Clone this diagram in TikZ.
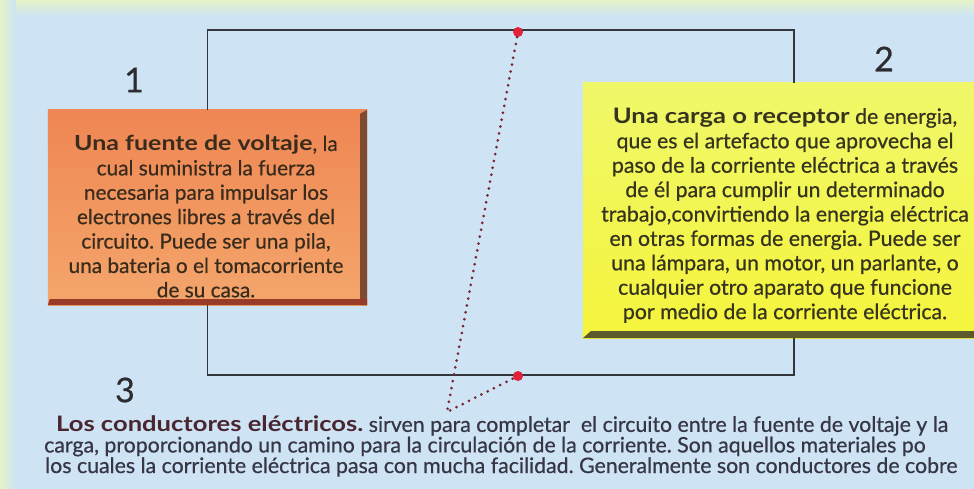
\documentclass[tikz,border=0pt]{standalone}
\usepackage{fontspec}
\setmainfont{Lato}[UprightFeatures={FakeBold=0.6}]
\usetikzlibrary{calc}
\definecolor{bg}{HTML}{CEE4F5}
\definecolor{bgyel}{HTML}{E4F3C8}
\definecolor{wirec}{HTML}{35363C}
\definecolor{dotred}{HTML}{E2213A}
\definecolor{dotline}{HTML}{7A2432}
\definecolor{orangeA}{HTML}{EF8653}
\definecolor{orangeB}{HTML}{F4A66C}
\definecolor{orangeShadow}{HTML}{7E4A32}
\definecolor{yelA}{HTML}{F0F86A}
\definecolor{yelB}{HTML}{F5F43C}
\definecolor{yelShadow}{HTML}{5C5A2C}
\definecolor{textO}{HTML}{3A2C1C}
\definecolor{textY}{HTML}{36341E}
\definecolor{textB}{HTML}{363645}
\definecolor{textBB}{HTML}{4A2630}
\definecolor{numc}{HTML}{2C2C30}
\newcommand\bx[1]{\scalebox{1.2}[1]{\textbf{#1}}}
\tikzset{
  wire/.style={draw=wirec, line width=1.8pt},
  reddot/.style={circle, fill=dotred, inner sep=0pt, minimum size=10pt},
  dots/.style={draw=dotline, line width=3pt, line cap=round, dash pattern=on 0pt off 7pt},
  boxtextO/.style={align=center, inner sep=0pt, font=\fontsize{20.8}{24.4}\selectfont, text=textO},
  boxtextY/.style={align=center, inner sep=0pt, font=\fontsize{21.3}{24.4}\selectfont, text=textY},
  bodytext/.style={align=left, anchor=base west, inner sep=0pt, font=\fontsize{21.3}{18}\selectfont, text=textB},
  numtext/.style={inner sep=0pt, font=\fontsize{34}{34}\selectfont, text=numc},
  plainbox/.style={inner sep=0pt, draw=none}
}
\begin{document}
\frenchspacing
\begin{tikzpicture}[x=1pt,y=-1pt]
\useasboundingbox (0,0) rectangle (974,489);
\clip (0,0) rectangle (974,489);
% background
\fill[bg] (0,0) rectangle (974,489);
\shade[top color=bgyel, bottom color=bg] (0,0) rectangle (974,16);
\shade[left color=bgyel, right color=bg] (0,0) rectangle (16,489);

% source box (orange)
\node[plainbox, minimum width=319pt, minimum height=195pt] (src) at (207.5,207.5) {};
\shade[top color=orangeA, bottom color=orangeB] (src.north west) rectangle (src.south east);
\fill[orangeShadow] ($(src.north east)+(-7,4)$) -- ($(src.north east)+(0,0)$) -- (src.south east) -- ($(src.south east)+(-7,0)$) -- cycle;
\fill[orangeShadow!80!red] ($(src.south west)+(2,-6)$) -- ($(src.south east)+(0,-6)$) -- (src.south east) -- (src.south west) -- cycle;
\node[boxtextO] (srctext) at (206,216.5) {\bx{Una fuente de voltaje}, la\\cual suministra la fuerza\\necesaria para impulsar los\\electrones libres a través del\\circuito. Puede ser una pila,\\una bateria o el tomacorriente\\de su casa.};

% load box (yellow)
\node[plainbox, minimum width=392pt, minimum height=255pt] (load) at (779,210.5) {};
\shade[top color=yelA, bottom color=yelB] (load.north west) rectangle (load.south east);
\fill[yelShadow] ($(load.south west)+(8,-7)$) -- ($(load.south east)+(0,-7)$) -- (load.south east) -- (load.south west) -- cycle;
\node[boxtextY] (loadtext) at (785,215.5) {\bx{Una carga o receptor} de energia,\\que es el artefacto que aprovecha el\\paso de la corriente eléctrica a través\\de él para cumplir un determinado\\trabajo,convirtiendo la energia eléctrica\\en otras formas de energia. Puede ser\\una lámpara, un motor, un parlante, o\\cualquier otro aparato que funcione\\por medio de la corriente eléctrica.};

% circuit wires
\coordinate (tr) at (794,30);
\coordinate (br) at (794,375);
\draw[wire] (src.north) |- (tr) -- (tr |- load.north);
\draw[wire] (src.south) |- (br) -- (br |- load.south);

% red dots and dotted connector
\node[reddot] (d1) at (518,32) {};
\node[reddot] (d2) at (518,376) {};
\coordinate (v) at (447,412);
\draw[dots] (d1) -- (v) -- (d2);

% numbers
\node[numtext] (n1) at (134,80) {1};
\node[numtext] (n2) at (884,59) {2};
\node[numtext] (n3) at (125,390) {3};

% bottom text (anchor base = last line's baseline)
\node[bodytext] (body) at (44,473) {\hspace*{12pt}\textcolor{textBB}{\bx{Los conductores eléctricos.}} sirven para completar\ \ el circuito entre la fuente de voltaje y la\\carga, proporcionando un camino para la circulación de la corriente. Son aquellos materiales po\\\hspace*{1pt}los cuales la corriente eléctrica pasa con mucha facilidad. Generalmente son conductores de cobre};
\end{tikzpicture}
\end{document}
